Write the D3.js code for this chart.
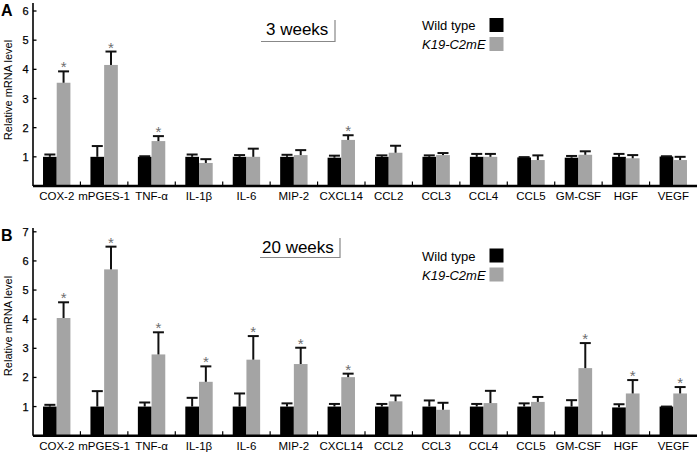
<!DOCTYPE html>
<html>
<head>
<meta charset="utf-8">
<script src="https://cdn.jsdelivr.net/npm/d3@7/dist/d3.min.js"></script>
<style>
  html, body { margin: 0; padding: 0; background: #fff; }
  svg { display: block; font-family: "Liberation Sans", Arial, Helvetica, sans-serif; }
</style>
</head>
<body>
<svg id="chart" width="700" height="453"></svg>
<script>
// ---------- data ----------
const genes = ["COX-2","mPGES-1","TNF-\u03b1","IL-1\u03b2","IL-6","MIP-2","CXCL14","CCL2","CCL3","CCL4","CCL5","GM-CSF","HGF","VEGF"];
const seriesNames = ["Wild type", "K19-C2mE"];

// Panel A: 3 weeks
const wtA     = [1.00,1.00,1.00,1.00,1.00,1.00,0.97,1.00,1.00,1.00,0.98,0.97,1.00,1.01];
const wtErrA  = [0.08,0.37,0.02,0.08,0.06,0.07,0.07,0.05,0.05,0.10,0.01,0.06,0.10,0.01];
const k19A    = [3.54,4.15,1.54,0.79,1.00,1.06,1.58,1.14,1.06,1.00,0.89,1.07,0.95,0.89];
const k19ErrA = [0.39,0.46,0.17,0.13,0.28,0.17,0.16,0.24,0.07,0.10,0.16,0.12,0.11,0.11];
const sigA    = ["COX-2","mPGES-1","TNF-\u03b1","CXCL14"];

// Panel B: 20 weeks
const wtB     = [1.00,1.00,1.00,1.00,1.00,1.00,1.00,1.00,1.00,1.00,1.00,1.00,0.97,1.00];
const wtErrB  = [0.06,0.53,0.14,0.30,0.45,0.11,0.09,0.09,0.21,0.09,0.11,0.22,0.11,0.00];
const k19B    = [4.04,5.71,2.79,1.85,2.61,2.46,2.01,1.18,0.89,1.12,1.16,2.32,1.45,1.45];
const k19ErrB = [0.54,0.78,0.76,0.53,0.81,0.56,0.12,0.20,0.24,0.42,0.17,0.86,0.46,0.22];
const sigB    = ["COX-2","mPGES-1","TNF-\u03b1","IL-1\u03b2","IL-6","MIP-2","CXCL14","GM-CSF","HGF","VEGF"];

const ticksA = [1,2,3,4,5,6];
const ticksB = [1,2,3,4,5,6,7];
const panelLetters = ["A","B"];
const panelTitles = ["3 weeks","20 weeks"];

// ---------- drawing ----------
const svg = d3.select("#chart");
const colors = ["#000000", "#a4a4a4"];

const x = d3.scaleBand().domain(genes).range([33, 697]).paddingInner(0).paddingOuter(0);
const barW = 13.7;

function drawPanel(opt) {
  const g = svg.append("g");
  const y = d3.scaleLinear().domain([0, opt.ticks[opt.ticks.length-1]]).range([opt.base, opt.topTick]);

  const rows = genes.map((gname, i) => ({
    gene: gname,
    vals: [
      {s:0, v: opt.wt[i], e: opt.wtErr[i]},
      {s:1, v: opt.k19[i], e: opt.k19Err[i]}
    ]
  }));
  const grp = g.selectAll("g.grp").data(rows).join("g").attr("class","grp");
  const cx = d => x(d.gene) + x.bandwidth()/2;

  grp.each(function(d) {
    const gg = d3.select(this);
    const c = cx(d);
    d.vals.forEach(b => {
      const x0 = b.s === 0 ? c - barW : c;
      const xm = x0 + barW/2;
      gg.append("rect")
        .attr("x", x0).attr("width", barW)
        .attr("y", y(b.v)).attr("height", y(0) - y(b.v))
        .attr("fill", colors[b.s]);
      const topV = b.v + b.e;
      gg.append("line")
        .attr("x1", xm).attr("x2", xm)
        .attr("y1", y(b.v)).attr("y2", y(topV))
        .attr("stroke", "#111").attr("stroke-width", 2);
      gg.append("line")
        .attr("x1", xm - 5.5).attr("x2", xm + 5.5)
        .attr("y1", y(topV)).attr("y2", y(topV))
        .attr("stroke", "#111").attr("stroke-width", 2);
      if (b.s === 1 && opt.sig.includes(d.gene)) {
        gg.append("text")
          .attr("x", xm).attr("y", y(topV) + 1)
          .attr("text-anchor", "middle")
          .attr("font-size", 15)
          .attr("fill", "#6e6e6e")
          .text("*");
      }
    });
  });

  // y axis
  g.append("line")
    .attr("x1", 33).attr("x2", 33)
    .attr("y1", opt.axisTop).attr("y2", opt.base)
    .attr("stroke", "#000").attr("stroke-width", 1.6);
  const yt = g.append("g");
  yt.selectAll("line").data(opt.ticks).join("line")
    .attr("x1", 33).attr("x2", 36.5)
    .attr("y1", d => y(d)).attr("y2", d => y(d))
    .attr("stroke", "#000").attr("stroke-width", 1.3);
  yt.selectAll("text").data(opt.ticks).join("text")
    .attr("x", 28.5).attr("y", d => y(d) + 4)
    .attr("text-anchor", "end")
    .attr("font-size", 11)
    .attr("fill", "#000")
    .attr("stroke", "#000").attr("stroke-width", 0.25)
    .text(d => d);

  // x axis
  g.append("line")
    .attr("x1", 33).attr("x2", 697)
    .attr("y1", opt.base).attr("y2", opt.base)
    .attr("stroke", "#000").attr("stroke-width", 2.4);
  g.selectAll("line.sep").data(genes.slice(1)).join("line")
    .attr("class","sep")
    .attr("x1", d => x(d)).attr("x2", d => x(d))
    .attr("y1", opt.base).attr("y2", opt.base - 4.5)
    .attr("stroke", "#000").attr("stroke-width", 1.2);
  g.selectAll("text.xl").data(genes).join("text")
    .attr("class","xl")
    .attr("x", d => x(d) + x.bandwidth()/2)
    .attr("y", opt.base + 14)
    .attr("text-anchor", "middle")
    .attr("font-size", 11.5)
    .attr("fill", "#000")
    .text(d => d);

  // y label
  g.append("text")
    .attr("transform", `translate(12,${opt.ylabY}) rotate(-90)`)
    .attr("text-anchor", "middle")
    .attr("font-size", 11)
    .attr("fill", "#000")
    .text("Relative mRNA level");

  // panel letter
  g.append("text")
    .attr("x", 1).attr("y", opt.letterY)
    .attr("font-size", 16).attr("font-weight", "bold")
    .attr("fill", "#000")
    .text(opt.letter);

  // title box
  g.append("text")
    .attr("x", opt.titleX).attr("y", opt.titleY)
    .attr("font-size", 17).attr("fill", "#000")
    .text(opt.title);
  g.append("path")
    .attr("d", `M${opt.boxL},${opt.boxB} H${opt.boxR} V${opt.boxT}`)
    .attr("fill", "none").attr("stroke", "#888").attr("stroke-width", 1.2);

  // legend
  seriesNames.forEach((nm, i) => {
    g.append("text")
      .attr("x", 422).attr("y", opt.legY + i*19 + 11)
      .attr("font-size", 13)
      .attr("font-style", i === 1 ? "italic" : "normal")
      .attr("fill", "#000")
      .text(nm);
    g.append("rect")
      .attr("x", 489.5).attr("y", opt.legY + i*19 - 1)
      .attr("width", 14).attr("height", 14)
      .attr("fill", colors[i]);
  });
}

drawPanel({
  wt: wtA, wtErr: wtErrA, k19: k19A, k19Err: k19ErrA, sig: sigA, ticks: ticksA,
  base: 186, topTick: 11, axisTop: 3, ylabY: 90, letter: panelLetters[0], letterY: 16,
  title: panelTitles[0], titleX: 266, titleY: 34.5, boxL: 261, boxR: 335, boxT: 20, boxB: 41.5,
  legY: 19
});
drawPanel({
  wt: wtB, wtErr: wtErrB, k19: k19B, k19Err: k19ErrB, sig: sigB, ticks: ticksB,
  base: 435.7, topTick: 231.8, axisTop: 228, ylabY: 326, letter: panelLetters[1], letterY: 241,
  title: panelTitles[1], titleX: 262, titleY: 252.5, boxL: 260, boxR: 340, boxT: 238, boxB: 257.5,
  legY: 249.5
});
</script>
</body>
</html>
